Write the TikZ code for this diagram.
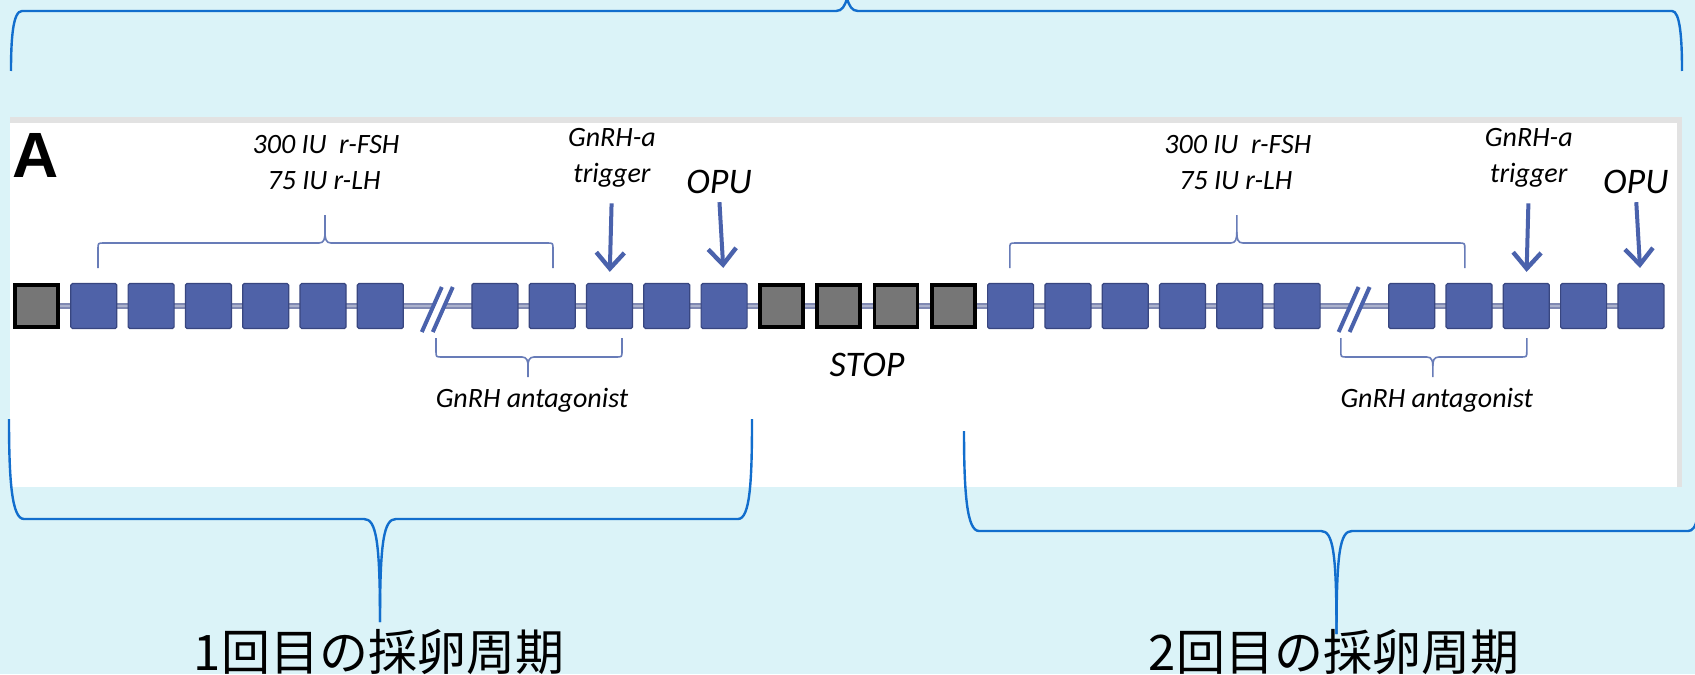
\documentclass[tikz,border=0pt]{standalone}
\usepackage{fontspec}
\setmainfont{Carlito}
\newfontfamily\cjkfont{Noto Sans CJK JP}
\newfontfamily\boldsans{Liberation Sans}
\usetikzlibrary{arrows.meta}

\definecolor{bgcyan}{RGB}{219,243,248}
\definecolor{bracecol}{RGB}{18,110,205}
\definecolor{dayblue}{RGB}{79,98,168}
\definecolor{dayedge}{RGB}{56,70,128}
\definecolor{daygray}{RGB}{118,118,118}
\definecolor{railblue}{RGB}{128,137,178}
\definecolor{arrowblue}{RGB}{74,98,172}
\definecolor{bracketblue}{RGB}{104,124,184}
\definecolor{panelgray}{RGB}{226,226,226}

\tikzset{
  stimday/.style={draw=dayedge, line width=0.6pt, fill=dayblue, minimum width=23pt,
    minimum height=22.5pt, inner sep=0pt, rounded corners=0.8pt},
  restday/.style={draw=black, line width=1.8pt, fill=daygray, minimum width=21.5pt,
    minimum height=21pt, inner sep=0pt},
  drug/.style={font=\fontsize{14}{16}\selectfont\itshape, inner sep=0pt},
  event/.style={font=\fontsize{18}{20}\selectfont\itshape, inner sep=0pt},
  cyclelabel/.style={font=\cjkfont\fontsize{24.5}{27}\selectfont, inner sep=0pt},
  shot/.style={arrowblue, line width=2pt,
    -{Straight Barb[length=8pt,width=14pt,line width=2.2pt]}},
  bracket/.style={bracketblue, line width=0.8pt},
  cyclebrace/.style={bracecol, line width=1.2pt},
}

\begin{document}
\begin{tikzpicture}[x=0.5pt, y=-0.5pt]
\useasboundingbox (0,0) rectangle (1695,674);
\clip (0,0) rectangle (1695,674);
\fill[bgcyan] (0,0) rectangle (1695,674);
% white panel
\fill[panelgray] (10,117) rectangle (1682,487);
\fill[white] (10,123) rectangle (1677,487);

% day slots and rail
\foreach \i in {0,...,28} \coordinate (c\i) at (36.5+57.3*\i,306);
\draw[railblue, line width=3.2pt] (c0) -- (c28);
\draw[white!35!railblue, line width=1pt] (c0) -- (c28);
\foreach \i in {0,13,14,15,16} \node[restday] (s\i) at (c\i) {};
\foreach \i in {1,2,3,4,5,6,8,9,10,11,12,17,18,19,20,21,22,24,25,26,27,28}
  \node[stimday] (s\i) at (c\i) {};

% breaks in the time line
\foreach \i in {7,23} {
  \begin{scope}[shift={(c\i)}]
    \draw[white, line width=3.5pt] (-10.3,27) -- (9.7,-20);
    \draw[arrowblue, line width=2pt] (-15.8,26) -- (4.2,-19);
    \draw[arrowblue, line width=2pt] (-4.8,26) -- (15.2,-19);
  \end{scope}
}

\node[font=\boldsans\bfseries\fontsize{32}{34}\selectfont, inner sep=0pt] (panelA) at (35.5,155) {A};
\node[event] (stop) at (867,365) {STOP};

% one stimulation cycle, drawn twice
\foreach \cyc/\dx/\sx/\ax/\ts/\os in {1/0/0/0/10/12, 2/916.8/-5/-12/26/28} {
  \begin{scope}[shift={(\dx,0)}]
    \node[drug] (fsh\cyc) at (326+\sx,145) {300 IU\ \ r-FSH};
    \node[drug] (lh\cyc) at (324+\sx,181) {75 IU r-LH};
    \draw[bracket] (98+\sx,268) -- (98+\sx,249) .. controls (98+\sx,243) .. (104+\sx,243)
      -- (319+\sx,243) .. controls (324+\sx,243) and (325+\sx,239) .. (325+\sx,232) -- (325+\sx,215);
    \draw[bracket] (325+\sx,232) .. controls (325+\sx,239) and (326+\sx,243) .. (331+\sx,243)
      -- (547+\sx,243) .. controls (553+\sx,243) .. (553+\sx,249) -- (553+\sx,268);
    \node[drug] (gnrha\cyc) at (612,138) {GnRH-a};
    \node[drug] (trig\cyc) at (612,175) {trigger};
    \node[event] (opu\cyc) at (719,182) {OPU};
    \node[drug] (antag\cyc) at (532+\ax,400) {GnRH antagonist};
    \draw[bracket] (436+\ax,338) -- (436+\ax,351) .. controls (436+\ax,357) .. (442+\ax,357)
      -- (522+\ax,357) .. controls (527+\ax,357) and (528+\ax,361) .. (528+\ax,366) -- (528+\ax,377);
    \draw[bracket] (528+\ax,366) .. controls (528+\ax,361) and (529+\ax,357) .. (534+\ax,357)
      -- (616+\ax,357) .. controls (622+\ax,357) .. (622+\ax,351) -- (622+\ax,338);
  \end{scope}
  \draw[shot, shorten <=8pt, shorten >=5.5pt] (trig\cyc.south) -- (s\ts.north);
  \draw[shot, shorten <=4pt, shorten >=7.5pt] (opu\cyc.south) -- (s\os.north);
}

% braces round the two cycles
\draw[cyclebrace] (11,71) .. controls (11,38) and (13,11) .. (22,11) -- (836,11)
  .. controls (842,11) and (845,6) .. (847,-2);
\draw[cyclebrace] (847,-2) .. controls (849,6) and (852,11) .. (858,11) -- (1672,11)
  .. controls (1680,11) and (1682,38) .. (1682,71);
\draw[cyclebrace] (9,419) .. controls (9,482) and (12,519) .. (24,519) -- (364,519)
  .. controls (376,519) and (380,540) .. (380,622);
\draw[cyclebrace] (380,622) .. controls (380,540) and (384,519) .. (396,519) -- (738,519)
  .. controls (750,519) and (752,482) .. (752,419);
\draw[cyclebrace] (964,431) .. controls (964,494) and (967,531) .. (979,531) -- (1321,531)
  .. controls (1333,531) and (1336.5,552) .. (1336.5,634);
\draw[cyclebrace] (1336.5,634) .. controls (1336.5,552) and (1340,531) .. (1352,531) -- (1688,531)
  .. controls (1697,531) and (1700,515) .. (1700,470);

\node[cyclelabel] (cycle1) at (379,652) {1回目の採卵周期};
\node[cyclelabel] (cycle2) at (1334,652) {2回目の採卵周期};
\end{tikzpicture}
\end{document}
